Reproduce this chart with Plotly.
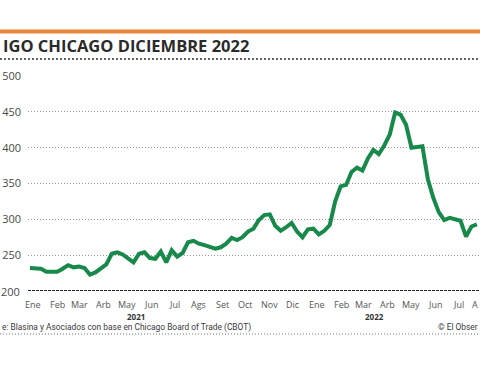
import pandas as pd
import plotly.graph_objects as go

# Weekly price, USD/ton
values = [232, 231, 231, 227, 227, 227, 231, 236, 233, 234,
          232, 223, 226, 232, 237, 252, 254, 251, 245, 240,
          252, 254, 246, 245, 255, 240, 257, 248, 253, 268,
          270, 266, 264, 262, 259, 261, 266, 274, 271, 275,
          283, 287, 299, 306, 307, 291, 284, 289, 295, 283,
          275, 286, 287, 279, 284, 292, 325, 346, 348, 366,
          372, 368, 385, 397, 391, 403, 418, 449, 446, 432,
          400, 401, 402, 356, 330, 310, 299, 302, 300, 298,
          276, 290, 293]
start = pd.Timestamp("2021-01-11")
dates = [start + pd.Timedelta(weeks=i) for i in range(len(values))]

month_labels = ["Ene", "Feb", "Mar", "Arb", "May", "Jun", "Jul", "Ags", "Set", "Oct", "Nov", "Dic",
                "Ene", "Feb", "Mar", "Arb", "May", "Jun", "Jul", "A"]
month_dates = pd.date_range("2021-01-01", periods=len(month_labels), freq="MS") + pd.Timedelta(days=14)
year_labels = ["2021", "2022"]
year_dates = [pd.Timestamp("2021-05-27"), pd.Timestamp("2022-03-29")]
y_ticks = [200, 250, 300, 350, 400, 450, 500]

W, H = 480, 365
L, T, B = 28, 76, 74
PH = H - T - B
px_per_day = 5.45 / 7
r0 = start - pd.Timedelta(days=2 / px_per_day)
r1 = start + pd.Timedelta(days=450 / px_per_day)
span = (r1 - r0)

def xfrac(d):
    return (d - r0) / span

def px_x(px):
    return (px - L) / (W - L)

def px_y(py):
    return (H - B - py) / PH

GREEN = "#17894a"
ORANGE = "#e8863a"
TXT = "#4a4a4a"

fig = go.Figure()
fig.add_trace(go.Scatter(x=dates, y=values, mode="lines",
                         line=dict(color=GREEN, width=4), hoverinfo="skip",
                         cliponaxis=True))

fig.update_layout(
    width=W, height=H, margin=dict(l=L, r=0, t=T, b=B),
    paper_bgcolor="white", plot_bgcolor="white", showlegend=False,
    xaxis=dict(range=[r0, r1], showgrid=False, showticklabels=False,
               zeroline=False, showline=False, ticks=""),
    yaxis=dict(range=[200, 500], tickvals=y_ticks[1:], showgrid=True,
               gridcolor="#9a9a9a", griddash="1px,2px", gridwidth=1,
               zeroline=False, showline=False, ticks="",
               ticklabelstandoff=6,
               tickfont=dict(family="Open Sans", size=11, color=TXT)),
)

# 200 baseline label + dashed black baseline
fig.add_annotation(xref="paper", yref="y", x=0, y=200, text="200", showarrow=False,
                   xanchor="right", xshift=-6, font=dict(family="Open Sans", size=11, color=TXT))
fig.add_shape(type="line", xref="paper", yref="y", x0=0, x1=1, y0=200, y1=200,
              line=dict(color="#222", width=2, dash="3px,1px"), layer="above")

# Month labels
for lab, d in zip(month_labels, month_dates):
    xa = "center"
    xf = xfrac(d)
    if xf > 0.99:
        xa, xf = "right", 1.0
    fig.add_annotation(xref="paper", yref="paper", x=xf, y=px_y(304),
                       text=lab, showarrow=False, xanchor=xa, yanchor="middle",
                       font=dict(family="Open Sans", size=9, color="#555"))
for lab, d in zip(year_labels, year_dates):
    fig.add_annotation(xref="paper", yref="paper", x=xfrac(d), y=px_y(316),
                       text="<b>" + lab + "</b>", showarrow=False, xanchor="center", yanchor="middle",
                       font=dict(family="Open Sans", size=8, color="#333"))

# Orange top rule
fig.add_shape(type="line", xref="paper", yref="paper", x0=px_x(0), x1=1,
              y0=px_y(31.5), y1=px_y(31.5), line=dict(color=ORANGE, width=4))
# Title
fig.add_annotation(xref="paper", yref="paper", x=px_x(1), y=px_y(46),
                   text="<b>IGO CHICAGO DICIEMBRE 2022</b>", showarrow=False,
                   xanchor="left", yanchor="middle",
                   font=dict(family="Open Sans", size=16.5, color="#2b2b2b"))
# dotted rule under title
fig.add_shape(type="line", xref="paper", yref="paper", x0=px_x(0), x1=1,
              y0=px_y(59), y1=px_y(59), line=dict(color="#333", width=1.5, dash="2px,2px"))

# Source
fig.add_annotation(xref="paper", yref="paper", x=px_x(0), y=px_y(327),
                   text="e: Blasina y Asociados con base en Chicago Board of Trade (CBOT)",
                   showarrow=False, xanchor="left", yanchor="middle",
                   font=dict(family="Roboto", size=8.4, color="#3a3a3a"))
fig.add_annotation(xref="paper", yref="paper", x=1, y=px_y(327),
                   text="© El Obser", showarrow=False, xanchor="right", yanchor="middle",
                   font=dict(family="Roboto", size=8.4, color="#3a3a3a"))
fig.add_shape(type="line", xref="paper", yref="paper", x0=px_x(0), x1=1,
              y0=px_y(334), y1=px_y(334), line=dict(color="#777", width=1, dash="1px,2px"))

fig.write_html("out.html", config={"displayModeBar": False, "staticPlot": True})
with open("out.html", encoding="utf-8") as f:
    html = f.read()
html = html.replace("<body>", '<body style="margin:0;padding:0;">', 1)
with open("out.html", "w", encoding="utf-8") as f:
    f.write(html)
